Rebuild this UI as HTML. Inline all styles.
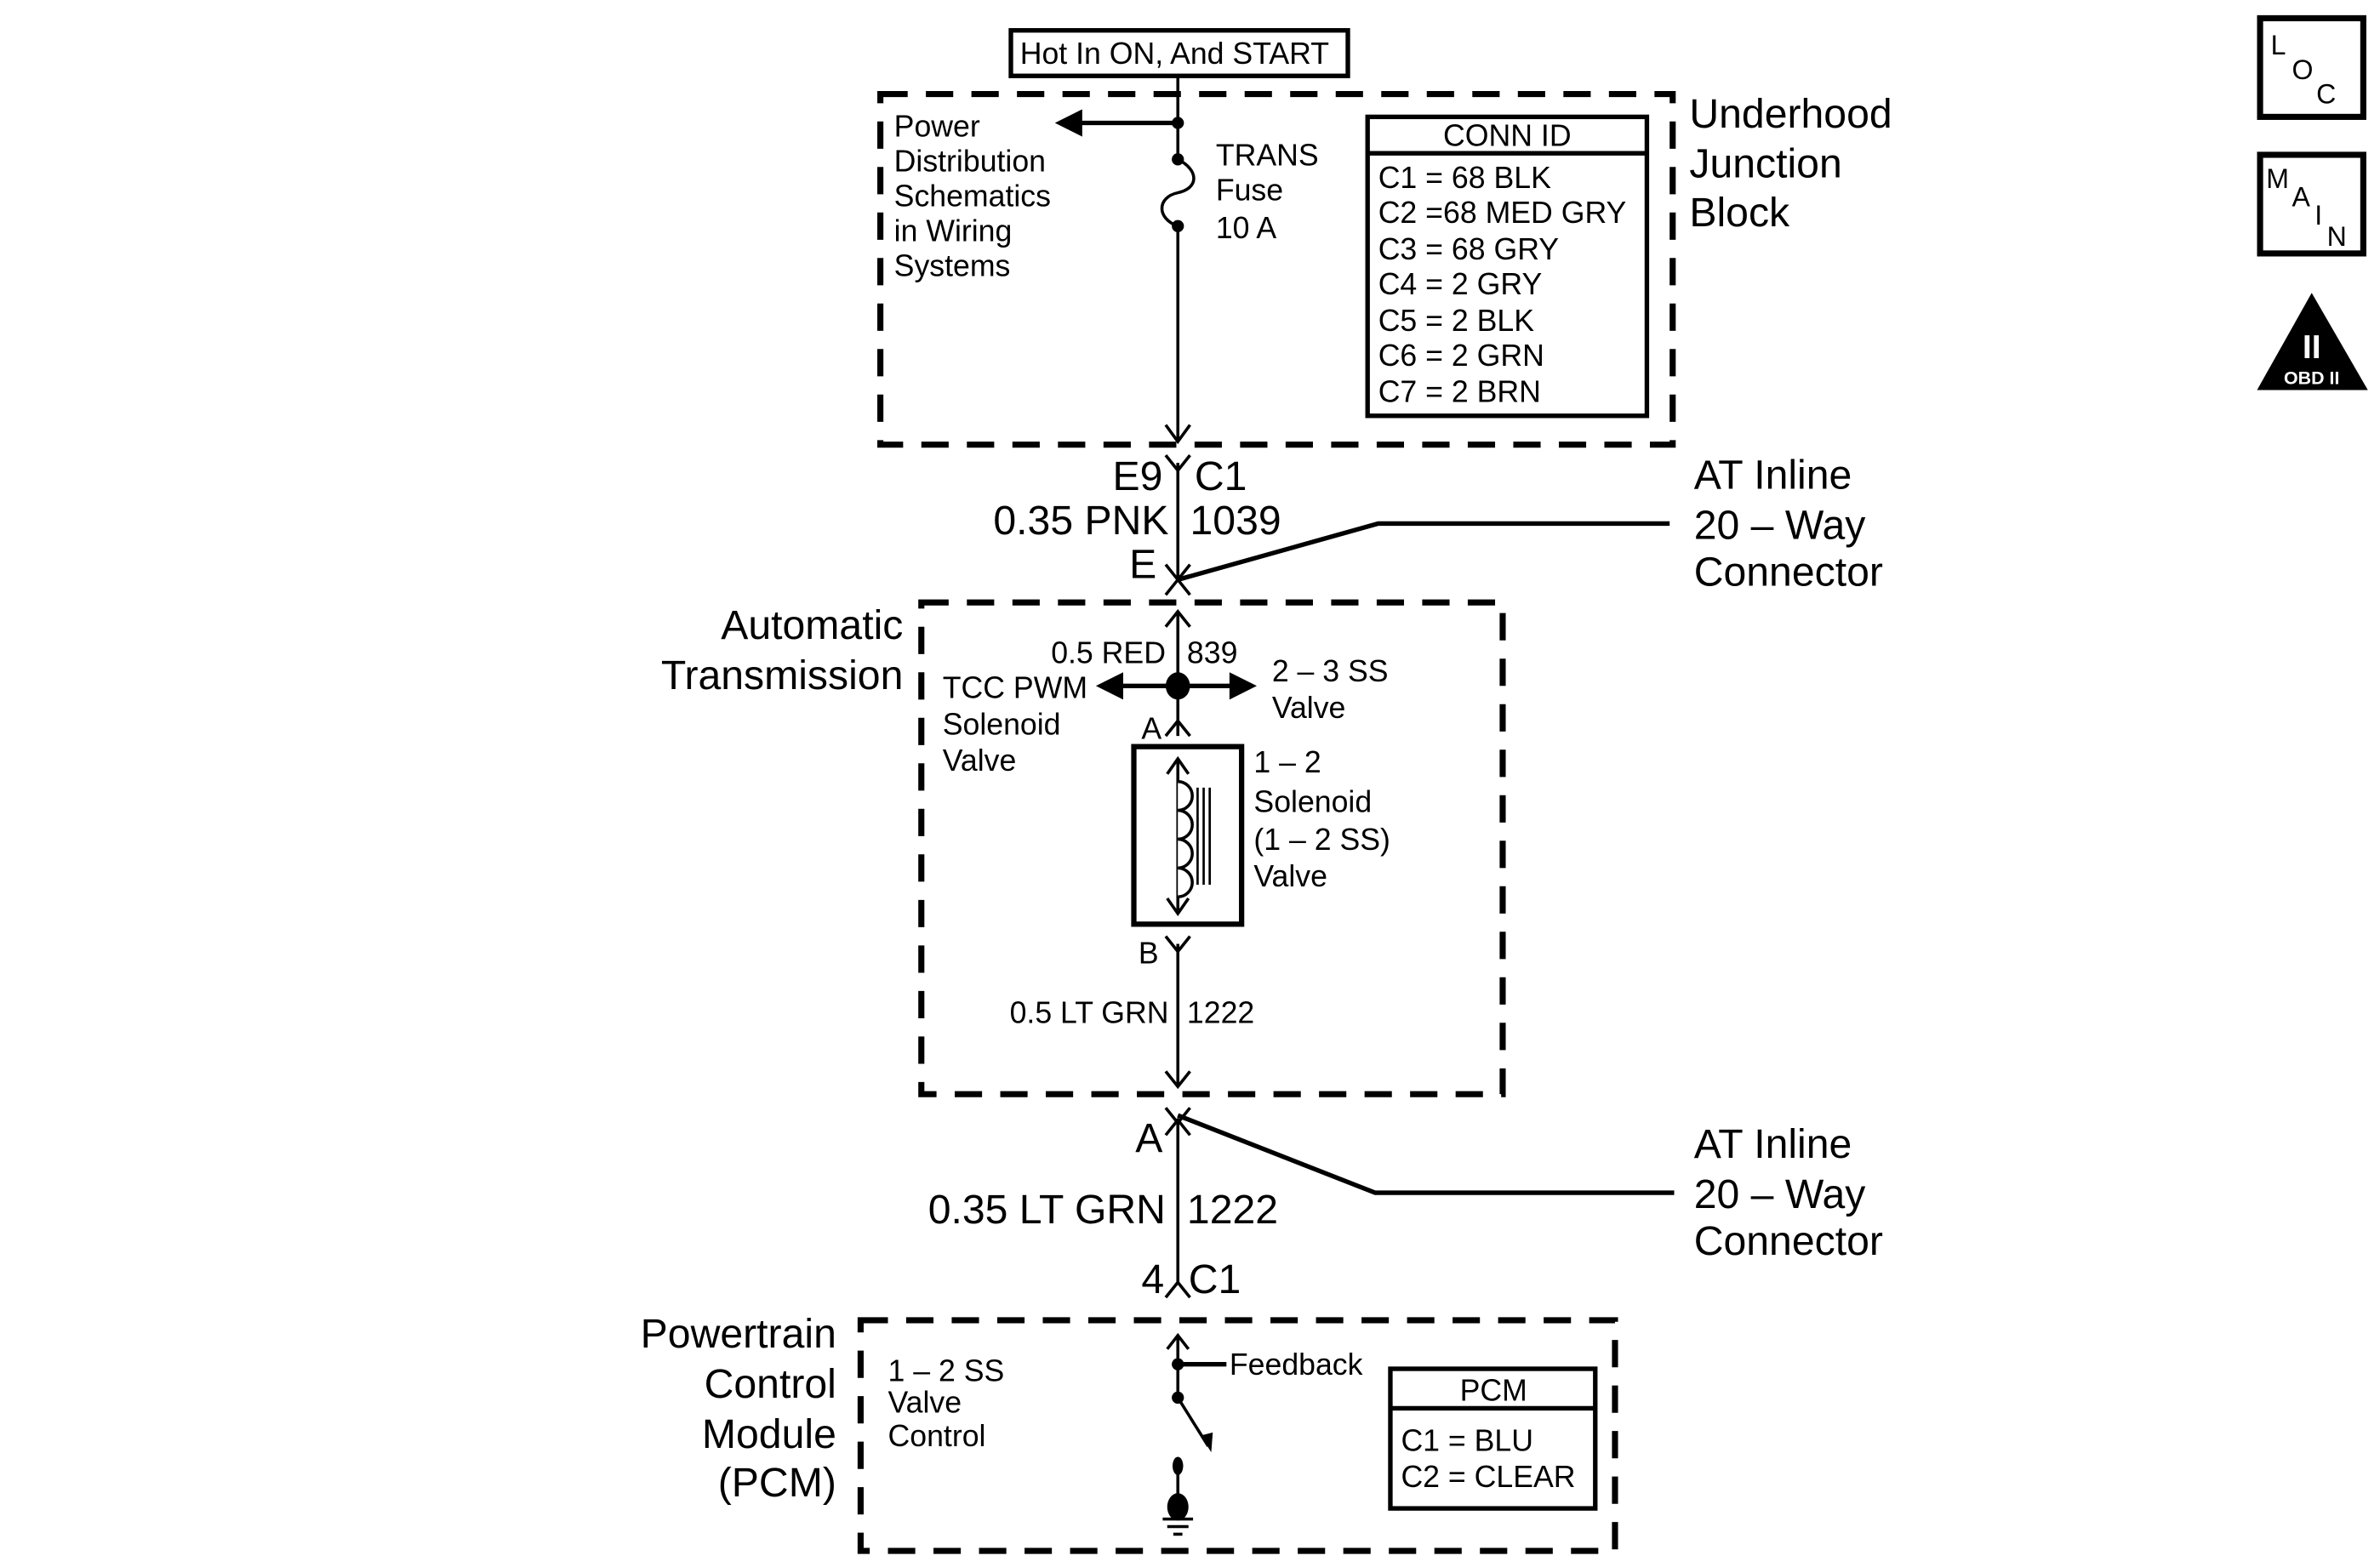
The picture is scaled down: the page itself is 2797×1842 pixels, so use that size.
<!DOCTYPE html>
<html><head><meta charset="utf-8"><style>
html,body{margin:0;padding:0;background:#fff}
svg{display:block}
text{font-family:"Liberation Sans",sans-serif;fill:#000}
</style></head><body>
<svg width="2797" height="1842" viewBox="0 0 1568 1032.6" xmlns="http://www.w3.org/2000/svg">
<g fill="none" stroke="#000">
<rect x="580" y="62" width="522" height="231" stroke-width="4" stroke-dasharray="18,12"/>
<rect x="607" y="397" width="383" height="324" stroke-width="4" stroke-dasharray="18,12"/>
<rect x="567" y="870" width="497" height="152" stroke-width="4" stroke-dasharray="18,12"/>
<rect x="666" y="20" width="222" height="30" stroke-width="3"/>
<rect x="901" y="77" width="184" height="197" stroke-width="3"/>
<line x1="901" y1="101" x2="1085" y2="101" stroke-width="3"/>
<line x1="776" y1="50" x2="776" y2="105" stroke-width="2"/>
<path d="M776 105 C790 112,790 124,776 127 C762 130,762 144,776 149" stroke-width="2"/>
<line x1="776" y1="149" x2="776" y2="290" stroke-width="2"/>
<line x1="776" y1="81" x2="710" y2="81" stroke-width="3"/>
<path d="M768 280 L776 291 L784 280" stroke-width="2"/>
<path d="M768 300 L776 310 L784 300" stroke-width="2"/>
<line x1="776" y1="305" x2="776" y2="382" stroke-width="2"/>
<path d="M768 372 L776 382 L784 372" stroke-width="2"/>
<path d="M768 392 L776 382 L784 392" stroke-width="2"/>
<polyline points="776,382 908,345 1100,345" stroke-width="3"/>
<path d="M768 413 L776 403 L784 413" stroke-width="2"/>
<line x1="776" y1="403" x2="776" y2="485" stroke-width="2"/>
<line x1="740" y1="452" x2="812" y2="452" stroke-width="3"/>
<path d="M768 485 L776 475 L784 485" stroke-width="2"/>
<rect x="747" y="492" width="71" height="117" stroke-width="3.5"/>
<line x1="776" y1="500" x2="776" y2="600" stroke-width="2"/>
<path d="M769 510 L776 500 L783 510 M769 592 L776 602 L783 592" stroke-width="2"/>
<path d="M776 515 a9 9 0 0 1 0 19 a9 9 0 0 1 0 19 a9 9 0 0 1 0 19 a9 9 0 0 1 0 19" stroke-width="2" fill="#fff"/>
<line x1="789" y1="519" x2="789" y2="583" stroke-width="1.5"/>
<line x1="793" y1="519" x2="793" y2="583" stroke-width="1.5"/>
<line x1="797" y1="519" x2="797" y2="583" stroke-width="1.5"/>
<path d="M768 617 L776 627 L784 617" stroke-width="2"/>
<line x1="776" y1="622" x2="776" y2="716" stroke-width="2"/>
<path d="M768 706 L776 716 L784 706" stroke-width="2"/>
<path d="M768 730 L776 740 L784 730 M768 748 L776 738 L784 748" stroke-width="2"/>
<polyline points="776,735 906,786 1103,786" stroke-width="3"/>
<line x1="776" y1="738" x2="776" y2="846" stroke-width="2"/>
<path d="M768 855 L776 845 L784 855" stroke-width="2"/>
<path d="M769 889 L776 880 L783 889" stroke-width="2"/>
<line x1="776" y1="880" x2="776" y2="921" stroke-width="2"/>
<line x1="776" y1="899" x2="808" y2="899" stroke-width="3"/>
<line x1="776" y1="921" x2="796" y2="953" stroke-width="2"/>
<line x1="776" y1="963" x2="776" y2="993" stroke-width="2"/>
<line x1="766" y1="1001" x2="786" y2="1001" stroke-width="2"/>
<line x1="769" y1="1006" x2="783" y2="1006" stroke-width="2"/>
<line x1="773" y1="1011" x2="779" y2="1011" stroke-width="2"/>
<rect x="916" y="902" width="135" height="92" stroke-width="3"/>
<line x1="916" y1="928" x2="1051" y2="928" stroke-width="3"/>
<rect x="1489" y="12" width="68" height="65" stroke-width="4"/>
<rect x="1489" y="102" width="68" height="65" stroke-width="4"/>
</g>
<g fill="#000">
<polygon points="695,81 713,72 713,90"/>
<circle cx="776" cy="81" r="4"/><circle cx="776" cy="105" r="4"/><circle cx="776" cy="149" r="4"/>
<ellipse cx="776" cy="452" rx="8" ry="9"/>
<polygon points="722,452 740,443 740,461"/>
<polygon points="828,452 810,443 810,461"/>
<circle cx="776" cy="899" r="4"/><circle cx="776" cy="921" r="4"/>
<ellipse cx="776" cy="966" rx="3.5" ry="6"/>
<ellipse cx="776" cy="993" rx="7" ry="9"/>
<polygon points="798,957 791,946 799,944"/>
<polygon points="1523,193 1487,257 1560,257"/>
</g>
<g font-size="20">
<text x="672" y="42">Hot In ON, And START</text>
<text x="589" y="90">Power</text><text x="589" y="113">Distribution</text><text x="589" y="136">Schematics</text><text x="589" y="159">in Wiring</text><text x="589" y="182">Systems</text>
<text x="801" y="109">TRANS</text><text x="801" y="132">Fuse</text><text x="801" y="157">10 A</text>
<text x="993" y="96" text-anchor="middle">CONN ID</text>
<text x="908" y="124">C1 =  68 BLK</text><text x="908" y="147">C2 =68 MED GRY</text><text x="908" y="171">C3 =  68 GRY</text><text x="908" y="194">C4 =  2 GRY</text><text x="908" y="218">C5 =  2 BLK</text><text x="908" y="241">C6 =  2 GRN</text><text x="908" y="265">C7 =  2 BRN</text>
<text x="768" y="437" text-anchor="end">0.5 RED</text><text x="782" y="437">839</text>
<text x="838" y="449">2 – 3 SS</text><text x="838" y="473">Valve</text>
<text x="621" y="460">TCC PWM</text><text x="621" y="484">Solenoid</text><text x="621" y="508">Valve</text>
<text x="752" y="487">A</text>
<text x="826" y="509">1 – 2</text><text x="826" y="535">Solenoid</text><text x="826" y="560">(1 – 2 SS)</text><text x="826" y="584">Valve</text>
<text x="750" y="635">B</text>
<text x="770" y="674" text-anchor="end">0.5 LT GRN</text><text x="782" y="674">1222</text>
<text x="585" y="910">1 – 2 SS</text><text x="585" y="931">Valve</text><text x="585" y="953">Control</text>
<text x="810" y="906">Feedback</text>
<text x="984" y="923" text-anchor="middle">PCM</text>
<text x="923" y="956">C1 =  BLU</text><text x="923" y="980">C2 =  CLEAR</text>
</g>
<g font-size="27">
<text x="1113" y="84">Underhood</text><text x="1113" y="117">Junction</text><text x="1113" y="149">Block</text>
<text x="766" y="323" text-anchor="end">E9</text><text x="787" y="323">C1</text>
<text x="770" y="352" text-anchor="end">0.35 PNK</text><text x="784" y="352">1039</text>
<text x="762" y="381" text-anchor="end">E</text>
<text x="1116" y="322">AT Inline</text><text x="1116" y="355">20 – Way</text><text x="1116" y="386">Connector</text>
<text x="595" y="421" text-anchor="end">Automatic</text><text x="595" y="454" text-anchor="end">Transmission</text>
<text x="1116" y="763">AT Inline</text><text x="1116" y="796">20 – Way</text><text x="1116" y="827">Connector</text>
<text x="766" y="759" text-anchor="end">A</text>
<text x="768" y="806" text-anchor="end">0.35 LT GRN</text><text x="782" y="806">1222</text>
<text x="767" y="852" text-anchor="end">4</text><text x="783" y="852">C1</text>
<text x="551" y="888" text-anchor="end">Powertrain</text><text x="551" y="921" text-anchor="end">Control</text><text x="551" y="954" text-anchor="end">Module</text><text x="551" y="986" text-anchor="end">(PCM)</text>
</g>
<g font-size="18">
<text x="1496" y="36">L</text><text x="1510" y="52">O</text><text x="1526" y="68">C</text>
<text x="1493" y="124">M</text><text x="1510" y="136">A</text><text x="1525" y="148">I</text><text x="1533" y="162">N</text>
</g>
<text x="1523" y="236" font-size="22" font-weight="bold" text-anchor="middle" style="fill:#fff">II</text>
<text x="1523" y="253" font-size="12" font-weight="bold" text-anchor="middle" style="fill:#fff">OBD II</text>
</svg>
</body></html>
